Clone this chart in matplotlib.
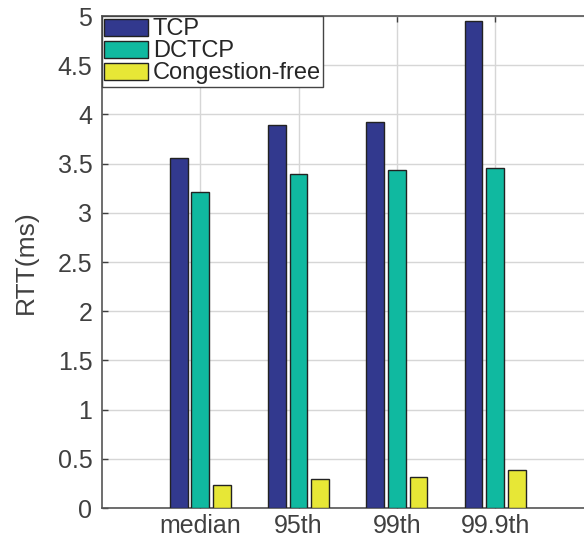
import matplotlib
matplotlib.use("Agg")
import matplotlib.pyplot as plt
import numpy as np

plt.rcParams['font.family'] = ['Liberation Sans', 'DejaVu Sans']

# data
categories = ["median", "95th", "99th", "99.9th"]
tcp = [3.56, 3.89, 3.92, 4.95]
dctcp = [3.21, 3.39, 3.43, 3.46]
congestion_free = [0.23, 0.29, 0.32, 0.39]
series_names = ["TCP", "DCTCP", "Congestion-free"]
yticks = [0, 0.5, 1, 1.5, 2, 2.5, 3, 3.5, 4, 4.5, 5]
ytick_labels = ["0", "0.5", "1", "1.5", "2", "2.5", "3", "3.5", "4", "4.5", "5"]

colors = ["#32398e", "#10b9a0", "#e7e736"]
axis_gray = "#404040"

fig = plt.figure(figsize=(5.84, 5.39), dpi=100)
# axes runs past the right edge of the picture, as in the reference
ax = fig.add_axes([102 / 584, 31 / 539, 491.5 / 584, 492 / 539])

x = np.arange(1, len(categories) + 1)
width = 0.18
offsets = [-0.22, 0.0, 0.22]
for vals, off, c, name in zip([tcp, dctcp, congestion_free], offsets, colors, series_names):
    ax.bar(x + off, vals, width, color=c, edgecolor="#222222", linewidth=1.0,
           label=name, zorder=3)

ax.set_xlim(0, 5)
ax.set_ylim(0, 5)
ax.set_xticks(x)
ax.set_xticklabels(categories)
ax.set_yticks(yticks)
ax.set_yticklabels(ytick_labels)
ax.set_ylabel("RTT(ms)", fontsize=19, color="#404040", labelpad=14)

ax.grid(True, color="#d6d6d6", linewidth=1.0, zorder=0)
ax.set_axisbelow(True)
ax.tick_params(direction="in", length=4, width=1, colors=axis_gray,
               labelsize=18, top=True, right=True)
ax.tick_params(axis="y", pad=7)
ax.tick_params(axis="x", pad=4)
for sp in ax.spines.values():
    sp.set_color("#555555")
    sp.set_linewidth(1.2)

leg = ax.legend(loc="upper left", fontsize=17, frameon=True, fancybox=False,
                borderaxespad=0.0, borderpad=0.1, labelspacing=0.0,
                handlelength=1.85, handleheight=0.72, handletextpad=0.2)
leg.get_frame().set_edgecolor("#444444")
leg.get_frame().set_linewidth(1.0)
leg.get_frame().set_alpha(1.0)
for t in leg.get_texts():
    t.set_color("#262626")

plt.savefig("out.png", dpi=100)
plt.close()
